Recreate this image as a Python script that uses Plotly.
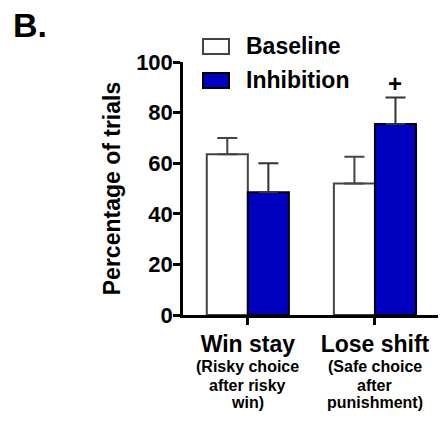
import plotly.graph_objects as go

# Behavioural strategy data (percentage of trials, mean and SEM)
categories = ["Win stay", "Lose shift"]
subtitles = [["(Risky choice", "after risky", "win)"], ["(Safe choice", "after", "punishment)"]]
series_names = ["Baseline", "Inhibition"]
baseline = [63.5, 52.0]
baseline_sem = [6.5, 10.5]
inhibition = [48.5, 75.5]
inhibition_sem = [11.5, 10.5]
sig_marks = ["", "+"]  # drawn above the Inhibition bar
y_ticks = [0, 20, 40, 60, 80, 100]

FONT = "Liberation Sans, Arial, sans-serif"
BLUE = "#0000C0"
x_pos = list(range(len(categories)))

fig = go.Figure()
fig.add_trace(go.Bar(
    x=x_pos, y=baseline, name=series_names[0],
    marker=dict(color="white", line=dict(color="#444444", width=2)),
    error_y=dict(type="data", array=baseline_sem, arrayminus=[0] * len(baseline),
                 symmetric=False, color="#444444", thickness=2, width=10),
))
fig.add_trace(go.Bar(
    x=x_pos, y=inhibition, name=series_names[1],
    marker=dict(color=BLUE, line=dict(color="black", width=2)),
    error_y=dict(type="data", array=inhibition_sem, arrayminus=[0] * len(inhibition),
                 symmetric=False, color="#333333", thickness=2, width=10),
))

fig.update_layout(
    width=448, height=433,
    margin=dict(l=183, r=10, t=62, b=118),
    paper_bgcolor="white", plot_bgcolor="white",
    barmode="group", bargap=0.354, bargroupgap=0,
    showlegend=False,
    font=dict(family=FONT, color="black"),
)

fig.update_yaxes(
    range=[0, 100], tickvals=y_ticks, ticktext=[f"<b>{v}</b>" for v in y_ticks],
    tickfont=dict(size=22, family=FONT),
    showline=True, linecolor="black", linewidth=2.5,
    ticks="outside", ticklen=7, tickwidth=2.5, tickcolor="black",
    ticklabelstandoff=-4,
    showgrid=False, zeroline=False,
    title=dict(text="<b>Percentage of trials</b>", font=dict(size=23, family=FONT), standoff=10),
)
fig.update_xaxes(
    range=[-0.51, 1.496], tickvals=x_pos, ticktext=[f"<b>{c}</b>" for c in categories],
    tickfont=dict(size=23, family=FONT),
    showline=True, linecolor="black", linewidth=2.5,
    ticks="outside", ticklen=7, tickwidth=2.5, tickcolor="black",
    showgrid=False, zeroline=False,
)

# Category descriptions under the tick labels, one line at a time
line_y = [-0.2016, -0.2767, -0.3478]
for xi, lines in zip(x_pos, subtitles):
    for ly, txt in zip(line_y, lines):
        fig.add_annotation(x=xi, xref="x", y=ly, yref="paper", text=f"<b>{txt}</b>",
                           showarrow=False, font=dict(size=16, family=FONT),
                           xanchor="center", yanchor="middle")

# Significance marker above the inhibition error bar
bar_offset = (1 - 0.354) / 4
for xi, v, e, m in zip(x_pos, inhibition, inhibition_sem, sig_marks):
    if m:
        fig.add_annotation(x=xi + bar_offset, y=v + e, text=f"<b>{m}</b>", showarrow=False,
                           font=dict(size=24, family=FONT), yanchor="bottom", yshift=-2)

# Legend: swatches plus labels
swatch_styles = [("white", "#444444"), (BLUE, "black")]
legend_rows = [(1.091, 1.0316), (0.957, 0.897)]
for name, (fill, edge), (y1, y0) in zip(series_names, swatch_styles, legend_rows):
    fig.add_shape(type="rect", xref="paper", yref="paper", x0=0.0784, x1=0.1804,
                  y0=y0, y1=y1, fillcolor=fill, line=dict(color=edge, width=2))
    fig.add_annotation(xref="paper", yref="paper", x=0.239, y=(y0 + y1) / 2,
                       text=f"<b>{name}</b>", showarrow=False, xanchor="left",
                       yanchor="middle", font=dict(size=23, family=FONT))

# Panel letter
fig.add_annotation(xref="paper", yref="paper", x=-0.675, y=1.146, text="<b>B.</b>",
                   showarrow=False, xanchor="left", yanchor="middle",
                   font=dict(size=34, family=FONT))

fig.write_html("out.html")
